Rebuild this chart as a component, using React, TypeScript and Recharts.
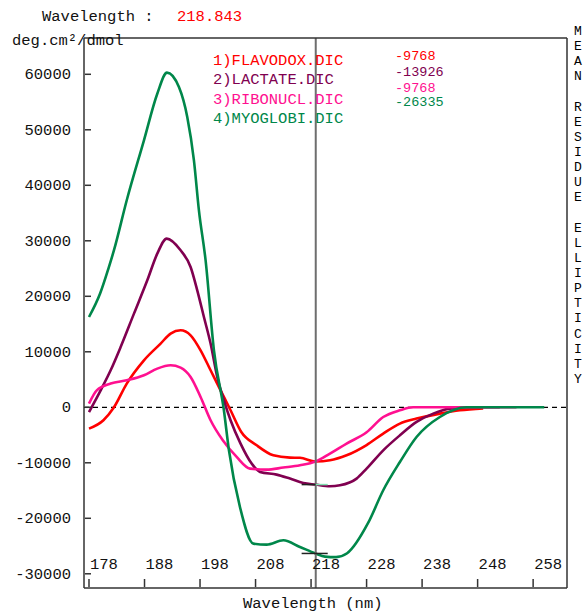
import { LineChart, Line, XAxis, YAxis, ReferenceLine } from 'recharts';

// CD spectra, mean residue ellipticity (deg.cm2/dmol) vs wavelength (nm)
const flavodoxin: [number, number][] = [
  [178, -3840], [180.6, -2340], [182.5, 0], [184.8, 4270], [187.9, 8470],
  [190.9, 11480], [192.7, 13280], [194.5, 13870], [196.3, 12970], [198.1, 10270],
  [199.9, 6670], [201.7, 3060], [203.5, -540], [205.4, -4400], [208.2, -6850],
  [211.2, -8650], [214.2, -9070], [216.0, -9100], [218.8, -9768], [221.4, -9550],
  [224.4, -8650], [228.0, -6800], [231.0, -4740], [234.0, -2940], [237.0, -2040],
  [241.2, -1140], [244.8, -540], [249.0, -200],
];

const lactate: [number, number][] = [
  [178, -850], [180.1, 3060], [181.9, 6670], [183.7, 10860], [186.1, 16880],
  [188.5, 22880], [190.3, 27690], [192.0, 30400], [194.5, 28290], [196.3, 25280],
  [197.5, 21080], [198.7, 16270], [199.9, 11480], [201.1, 5460], [202.3, 1260],
  [203.5, -2340], [205.3, -6540], [207.3, -10140], [208.8, -11650], [211.8, -12130],
  [214.2, -12850], [216.6, -13630], [218.8, -13926], [221.4, -14230], [223.2, -14050],
  [226.2, -12850], [228.0, -11050], [231.0, -7750], [234.0, -5050], [237.0, -2640],
  [240.0, -1140], [243.0, -240], [247.0, 0], [252.0, 0],
];

const ribonuclease: [number, number][] = [
  [178, 670], [179.4, 3060], [181.9, 4270], [184.8, 4860], [187.9, 5770],
  [190.3, 6970], [192.7, 7570], [194.5, 7150], [196.3, 5460], [198.1, 1860],
  [199.9, -2340], [202.1, -5950], [204.6, -8950], [207.0, -11050], [210.0, -11230],
  [213.0, -10860], [216.0, -10450], [218.8, -9768], [221.4, -8340], [224.4, -6540],
  [228.0, -4500], [231.0, -1750], [234.0, -540], [236.4, 0], [255.0, 0],
];

const myoglobin: [number, number][] = [
  [178, 16270], [180, 20500], [181.5, 25000], [182.5, 28300], [184.8, 37300],
  [187.9, 48100], [190.3, 56500], [192.05, 60300], [194.2, 57700], [195.7, 52300],
  [196.9, 44500], [197.8, 35500], [199.0, 26500], [200.5, 10300], [202.3, -540],
  [203.2, -7700], [205.2, -18000], [207.6, -24560], [210.0, -24740], [213.0, -23960],
  [216.0, -25170], [218.8, -26335], [220.5, -26900], [222.5, -27000], [224.5, -26300],
  [228.3, -20800], [231.0, -14950], [234.0, -9860], [237.0, -5350], [241.2, -1750],
  [246.0, 0], [260.0, 0],
];

const seriesNames = ['FLAVODOX.DIC', 'LACTATE.DIC', 'RIBONUCL.DIC', 'MYOGLOBI.DIC'];
const seriesColors = ['#ff0000', '#800050', '#ff1090', '#00874a'];
const cursorValues = [-9768, -13926, -9768, -26335];
const cursorWavelength = 218.843;

const xTicks = [178, 188, 198, 208, 218, 228, 238, 248, 258];
const yTicks = [-30000, -20000, -10000, 0, 10000, 20000, 30000, 40000, 50000, 60000];
const yLabel = 'MEAN RESIDUE ELLIPTICITY';

const X_DOMAIN: [number, number] = [177.1, 264.1];
const Y_DOMAIN: [number, number] = [-32560, 66540];

const FONT = '"Liberation Mono", "Courier New", monospace';
const FRAME = '#333';

const toPoints = (pts: [number, number][]) => pts.map(([wl, v]) => ({ wl, v }));
const allSeries = [flavodoxin, lactate, ribonuclease, myoglobin].map(toPoints);

// axes are 1px thick; ticks are drawn inward like the original instrument plot
function LeftTick({ x, y, payload }: any) {
  return (
    <g>
      <text x={x - 13} y={y + 5} textAnchor="end" fontFamily={FONT} fontSize={15.5} fill="#111">
        {payload.value}
      </text>
      <line x1={x + 1} x2={x + 7} y1={y} y2={y} stroke={FRAME} strokeWidth={1.5} />
    </g>
  );
}

function BottomTick({ x, y, payload }: any) {
  return (
    <g>
      <text x={x + 1} y={y - 19} fontFamily={FONT} fontSize={15.5} fill="#111">
        {payload.value}
      </text>
      <line x1={x} x2={x} y1={y - 1} y2={y - 9} stroke={FRAME} strokeWidth={1.5} />
    </g>
  );
}

function TopTick({ x, y }: any) {
  return <line x1={x} x2={x} y1={y + 1} y2={y + 8} stroke={FRAME} strokeWidth={1.5} />;
}

export default function App() {
  const W = 583;
  const H = 612;
  return (
    <div style={{ position: 'absolute', left: 0, top: 0, width: W, height: H, background: '#fff' }}>
      <LineChart width={W} height={H} margin={{ top: 37, right: 15, bottom: 23, left: 83 }}>
        <XAxis
          dataKey="wl"
          type="number"
          domain={X_DOMAIN}
          allowDataOverflow
          ticks={xTicks}
          interval={0}
          height={1}
          tickSize={0}
          tickMargin={0}
          tick={<BottomTick />}
          axisLine={{ stroke: FRAME, strokeWidth: 1.5 }}
          tickLine={false}
        />
        <XAxis
          xAxisId="top"
          orientation="top"
          type="number"
          domain={X_DOMAIN}
          allowDataOverflow
          ticks={xTicks}
          interval={0}
          height={1}
          tickSize={0}
          tickMargin={0}
          tick={<TopTick />}
          axisLine={{ stroke: FRAME, strokeWidth: 1.5 }}
          tickLine={false}
        />
        <YAxis
          type="number"
          domain={Y_DOMAIN}
          allowDataOverflow
          ticks={yTicks}
          interval={0}
          width={1}
          tickSize={0}
          tickMargin={0}
          tick={<LeftTick />}
          axisLine={{ stroke: FRAME, strokeWidth: 1.5 }}
          tickLine={false}
        />
        <YAxis
          yAxisId="right"
          orientation="right"
          type="number"
          domain={Y_DOMAIN}
          allowDataOverflow
          width={1}
          tick={false}
          axisLine={{ stroke: FRAME, strokeWidth: 1.5 }}
          tickLine={false}
        />
        <ReferenceLine y={0} stroke="#000" strokeWidth={1.3} strokeDasharray="5 4" />
        {allSeries.map((data, i) => (
          <Line
            key={seriesNames[i]}
            data={data}
            dataKey="v"
            type="monotone"
            stroke={seriesColors[i]}
            strokeWidth={2.6}
            dot={false}
            isAnimationActive={false}
          />
        ))}
        <ReferenceLine x={cursorWavelength} stroke="#6e6e6e" strokeWidth={2} />
        <ReferenceLine
          segment={[{ x: 216.3, y: cursorValues[1] }, { x: cursorWavelength, y: cursorValues[1] }]}
          stroke="#222"
          strokeWidth={1.5}
        />
        <ReferenceLine
          segment={[{ x: cursorWavelength, y: cursorValues[1] }, { x: 221.0, y: cursorValues[1] }]}
          stroke="#7fe0b0"
          strokeWidth={1.5}
        />
        <ReferenceLine
          segment={[{ x: 216.3, y: cursorValues[3] }, { x: 221.0, y: cursorValues[3] }]}
          stroke="#222"
          strokeWidth={1.5}
        />
      </LineChart>

      <svg
        width={W}
        height={H}
        style={{ position: 'absolute', left: 0, top: 0, pointerEvents: 'none' }}
        fontFamily={FONT}
        fontSize={15.5}
      >
        <text x={42} y={21} fill="#111">Wavelength :</text>
        <text x={177} y={21} fill="#ff0000">{cursorWavelength.toFixed(3)}</text>
        <text x={12} y={45} fill="#111">deg.cm²/dmol</text>
        <text x={243} y={608} fill="#111">Wavelength (nm)</text>

        {seriesNames.map((name, i) => (
          <text key={name} x={213} y={65 + i * 19.3} fill={seriesColors[i]}>
            {`${i + 1})${name}`}
          </text>
        ))}
        {cursorValues.map((v, i) => (
          <text key={i} x={395} y={[60, 76, 92, 106][i]} fontSize={13.5} fill={seriesColors[i]}>
            {v}
          </text>
        ))}

        {yLabel.split('').map((ch, i) =>
          ch === ' ' ? null : (
            <text key={i} x={578} y={35 + i * 15.13} textAnchor="middle" fontSize={13}>
              {ch}
            </text>
          )
        )}
      </svg>
    </div>
  );
}
